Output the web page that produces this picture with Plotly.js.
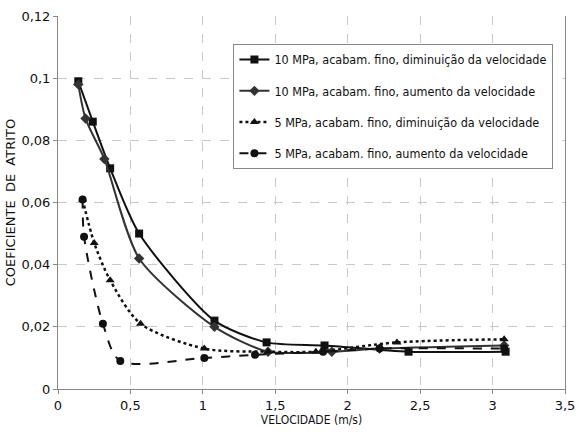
<!DOCTYPE html>
<html>
<head>
<meta charset="utf-8">
<script src="https://cdn.plot.ly/plotly-3.0.1.min.js"></script>
<style>html,body{margin:0;padding:0;background:#fff;}#chart{width:578px;height:437px;}</style>
</head>
<body>
<div id="chart"></div>
<script>
const names = [
  "10 MPa, acabam. fino, diminuição da velocidade",
  "10 MPa, acabam. fino, aumento da velocidade",
  "5 MPa, acabam. fino, diminuição da velocidade",
  "5 MPa, acabam. fino, aumento da velocidade"
];
const x1 = [0.14, 0.24, 0.36, 0.56, 1.08, 1.44, 1.84, 2.42, 3.09];
const y1 = [0.099, 0.086, 0.071, 0.050, 0.022, 0.015, 0.014, 0.012, 0.012];
const x2 = [0.14, 0.19, 0.32, 0.56, 1.08, 1.45, 1.89, 2.22, 3.08];
const y2 = [0.098, 0.087, 0.074, 0.042, 0.020, 0.012, 0.012, 0.013, 0.014];
const x3 = [0.17, 0.25, 0.36, 0.57, 1.01, 1.45, 1.78, 2.34, 3.08];
const y3 = [0.061, 0.047, 0.035, 0.021, 0.013, 0.012, 0.012, 0.015, 0.016];
const x4 = [0.17, 0.18, 0.31, 0.43, 1.01, 1.36, 1.83, 2.22, 3.08];
const y4 = [0.061, 0.049, 0.021, 0.009, 0.010, 0.011, 0.012, 0.013, 0.013];

const cond = "DejaVu Sans Condensed, DejaVu Sans, sans-serif";
const font = "DejaVu Sans, Verdana, sans-serif";
const traces = [
  {x: x1, y: y1, name: names[0], legendgroup: "a", mode: "lines+markers",
   line: {color: "#111", width: 2, shape: "spline", smoothing: 0.7},
   marker: {symbol: "square", size: 8, color: "#111"}},
  {x: x2, y: y2, name: names[1], legendgroup: "b", mode: "lines+markers",
   line: {color: "#333", width: 2, shape: "spline", smoothing: 0.7},
   marker: {symbol: "diamond", size: 8, color: "#333"}},
  {x: x3, y: y3, name: names[2], legendgroup: "c", mode: "lines+markers",
   line: {color: "#111", width: 2.5, dash: "dot", shape: "spline", smoothing: 0.8},
   marker: {symbol: "triangle-up", size: 8, color: "#111"}},
  {x: x4, y: y4, name: names[3], legendgroup: "d", mode: "lines+markers",
   line: {color: "#111", width: 2, dash: "dash", shape: "spline", smoothing: 0.8},
   marker: {symbol: "circle", size: 8, color: "#111"}}
];

const layout = {
  width: 578, height: 437,
  margin: {l: 58, r: 13, t: 16, b: 48},
  paper_bgcolor: "#fff", plot_bgcolor: "#fff",
  separators: ",.",
  font: {family: font, size: 12, color: "#111"},
  showlegend: true,
  legend: {
    x: 0.346, y: 0.925, xanchor: "left", yanchor: "top",
    bgcolor: "#fff", bordercolor: "#888", borderwidth: 1,
    font: {family: cond, size: 12.5, color: "#111"},
    tracegroupgap: 12, traceorder: "grouped", itemwidth: 30
  },
  xaxis: {
    range: [0, 3.5], dtick: 0.5, tick0: 0,
    showline: true, linecolor: "#888", linewidth: 1,
    ticks: "outside", ticklen: 4, tickcolor: "#888",
    showgrid: true, gridcolor: "#c8c8c8", griddash: "dash", gridwidth: 1,
    zeroline: false,
    tickfont: {family: font, size: 13},
    title: {text: "VELOCIDADE (m/s)", font: {family: cond, size: 12}, standoff: 2}
  },
  yaxis: {
    range: [0, 0.12], dtick: 0.02, tick0: 0,
    showline: true, linecolor: "#888", linewidth: 1, mirror: true,
    ticks: "outside", ticklen: 4, tickcolor: "#888",
    showgrid: true, gridcolor: "#c8c8c8", griddash: "dash", gridwidth: 1,
    zeroline: false,
    tickfont: {family: font, size: 13},
    title: {text: "COEFICIENTE&nbsp;&nbsp;DE&nbsp;&nbsp;ATRITO", font: {family: font, size: 13}, standoff: 2}
  }
};

Plotly.newPlot("chart", traces, layout, {displayModeBar: false, staticPlot: true});
</script>
</body>
</html>
